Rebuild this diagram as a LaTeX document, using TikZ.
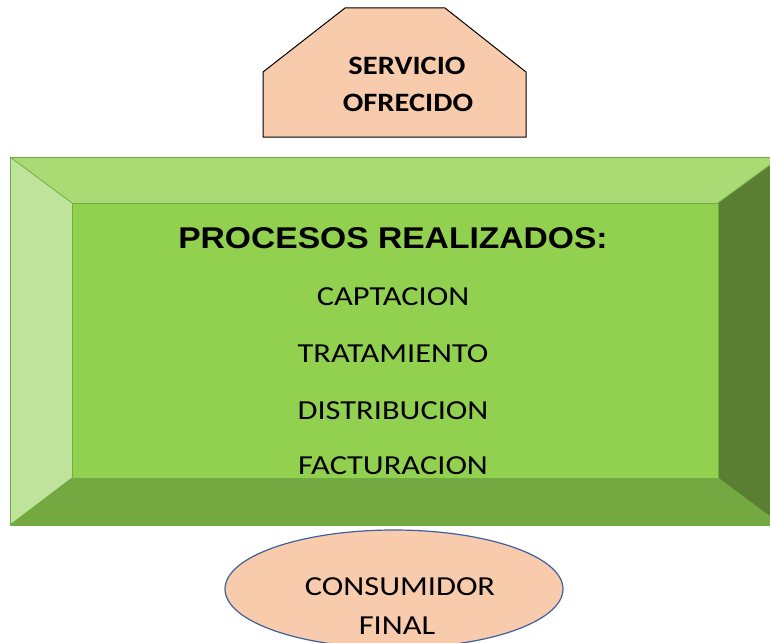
\documentclass[tikz,border=0pt]{standalone}
\usepackage{fontspec}
\usetikzlibrary{shapes.geometric}
\setmainfont{Carlito}
\newfontfamily\arialfont{Liberation Sans}
\definecolor{peach}{HTML}{F8CBAD}
\definecolor{gtop}{HTML}{A9DA74}
\definecolor{gleft}{HTML}{BFE39B}
\definecolor{gface}{HTML}{92D050}
\definecolor{gbot}{HTML}{74A840}
\definecolor{gright}{HTML}{5A7E32}
\definecolor{gline}{HTML}{70AD47}
\definecolor{eline}{HTML}{3F5F9E}
\newcommand{\wideA}[1]{\scalebox{1.18}[1]{#1}}
\tikzset{
  face/.style={draw=gline, line width=0.8pt, line join=miter},
  itemtext/.style={font=\fontsize{27.5}{30}\selectfont, anchor=center, inner sep=0pt},
  headtext/.style={font=\bfseries\fontsize{26.5}{28}\selectfont, inner sep=0pt},
}
\begin{document}
\begin{tikzpicture}[x=1pt,y=-1pt]
\useasboundingbox (0,0) rectangle (770,642);
\begin{scope}
\clip (0,0) rectangle (770,642);
% bevel box
\coordinate (o1) at (10,157);
\coordinate (o2) at (781,157);
\coordinate (o3) at (781,525);
\coordinate (o4) at (10,525);
\coordinate (i1) at (72,203);
\coordinate (i2) at (718,203);
\coordinate (i3) at (718,478);
\coordinate (i4) at (72,478);
\fill[gtop] (o1) -- (o2) -- (i2) -- (i1) -- cycle;
\fill[gleft] (o1) -- (i1) -- (i4) -- (o4) -- cycle;
\fill[gbot] (o4) -- (i4) -- (i3) -- (o3) -- cycle;
\fill[gright] (o2) -- (o3) -- (i3) -- (i2) -- cycle;
\fill[gface] (i1) rectangle (i3);
\draw[face] (o1) -- (i1) (i4) -- (o4) (o2) -- (i2) (i3) -- (o3);
\draw[face] (i1) rectangle (i3);
\draw[face] (o1) rectangle (o3);
% ellipse
\node[ellipse, draw=eline, line width=1.2pt, fill=peach, minimum width=338pt, minimum height=118pt, inner sep=0pt] (cons) at (394,589) {};
\end{scope}
% pentagon
\draw[fill=peach, line width=1pt, line join=miter] (263,137) -- (263,72) -- (345,8) -- (445,8) -- (526,72) -- (526,137) -- cycle;
\node[headtext] (serv1) at (407,66) {\scalebox{1.15}[1]{SERVICIO}};
\node[headtext] (serv2) at (408,103) {\scalebox{1.15}[1]{OFRECIDO}};
% texts
\node[font=\arialfont\bfseries\fontsize{30}{32}\selectfont, inner sep=0pt] (proc) at (393,238) {\scalebox{1.12}[1]{PROCESOS REALIZADOS:}};
\node[itemtext] (capt) at (393,297) {\wideA{CAPTACION}};
\node[itemtext] (trat) at (393,354) {\wideA{TRATAMIENTO}};
\node[itemtext] (dist) at (393,411) {\wideA{DISTRIBUCION}};
\node[itemtext] (fact) at (393,466) {\wideA{FACTURACION}};
\node[itemtext] (c1) at (400,587) {\wideA{CONSUMIDOR}};
\node[itemtext] (c2) at (397,626) {\wideA{FINAL}};
\end{tikzpicture}
\end{document}
